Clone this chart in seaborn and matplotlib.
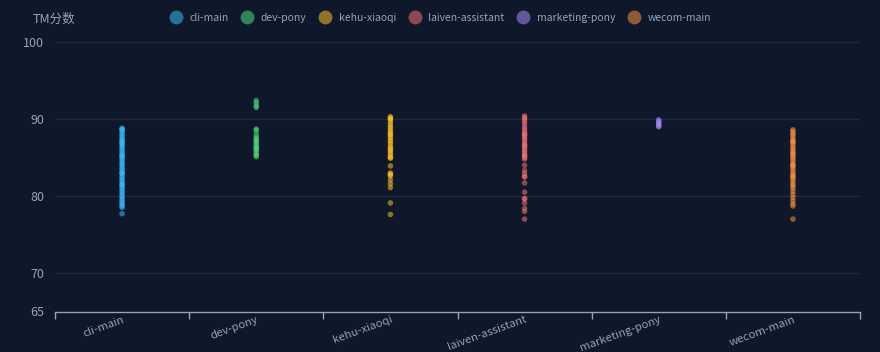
import numpy as np
import pandas as pd
import matplotlib
matplotlib.use("Agg")
import matplotlib.pyplot as plt
from matplotlib.lines import Line2D
import seaborn as sns

# ---------------------------------------------------------------------------
# data
# ---------------------------------------------------------------------------
categories = ["cli-main", "dev-pony", "kehu-xiaoqi", "laiven-assistant",
              "marketing-pony", "wecom-main"]

cli_main = [88.8, 88.6, 88.4, 88.1, 87.9, 87.6, 87.4, 87.2, 87.0, 86.7,
            86.5, 86.3, 86.0, 85.8, 85.5, 85.3, 85.1, 84.8, 84.6, 84.3,
            84.1, 83.9, 83.6, 83.4, 83.1, 82.9, 82.6, 82.4, 82.1, 81.9,
            81.6, 81.4, 81.1, 80.9, 80.6, 80.4, 80.1, 79.9, 79.6, 79.4,
            79.1, 78.9, 78.7, 78.5, 77.7, 88.7, 86.9, 85.2, 83.0, 81.5]
dev_pony = [92.4, 92.1, 91.7, 91.5, 88.7, 88.5, 88.0, 87.6, 87.2, 87.0,
            86.8, 86.5, 86.3, 86.0, 85.8, 85.5, 85.3, 85.1, 86.2, 87.4]
kehu_xiaoqi = [90.3, 90.1, 89.9, 89.6, 89.3, 89.0, 88.8, 88.5, 88.3, 88.0,
               87.7, 87.5, 87.2, 87.0, 86.7, 86.4, 86.2, 85.9, 85.6, 85.4,
               85.1, 84.9, 83.9, 83.0, 82.8, 82.6, 82.1, 81.6, 81.1, 79.1,
               77.6, 90.1, 88.0, 86.0, 85.0, 82.8]
laiven_assistant = [90.4, 90.2, 90.0, 89.7, 89.4, 89.0, 88.7, 88.4, 88.1,
                    87.9, 87.6, 87.4, 87.1, 86.8, 86.6, 86.3, 86.0, 85.8,
                    85.5, 85.3, 85.0, 84.8, 84.0, 83.3, 82.9, 82.5, 82.5,
                    81.7, 80.5, 79.7, 79.6, 79.1, 78.4, 78.0, 77.0, 88.0,
                    86.5, 85.2]
marketing_pony = [89.9, 89.7, 89.5, 89.3, 89.1, 89.0]
wecom_main = [88.6, 88.4, 88.1, 87.9, 87.6, 87.3, 87.1, 86.8, 86.5, 86.2,
              86.0, 85.7, 85.4, 85.1, 84.9, 84.6, 84.3, 84.0, 83.8, 83.5,
              83.2, 82.9, 82.7, 82.4, 82.1, 81.8, 81.5, 81.3, 81.0, 80.6,
              80.2, 79.8, 79.4, 79.0, 78.7, 77.0, 87.0, 85.5, 84.0, 82.5]

series = [cli_main, dev_pony, kehu_xiaoqi, laiven_assistant,
          marketing_pony, wecom_main]
colors = ["#38bdf8", "#4ade80", "#fbbf24", "#f87171", "#a78bfa", "#fb923c"]
y_ticks = [65, 70, 80, 90, 100]

df = pd.DataFrame({
    "app": np.repeat(categories, [len(s) for s in series]),
    "score": np.concatenate(series),
})

# ---------------------------------------------------------------------------
# style
# ---------------------------------------------------------------------------
bg = "#0f172a"
txt = "#94a3b8"
grid = "#1f2a3c"

sns.set_theme(style="dark")
plt.rcParams["font.family"] = ["Noto Sans CJK SC", "DejaVu Sans"]

fig = plt.figure(figsize=(8.8, 3.52), dpi=100, facecolor=bg)
ax = fig.add_axes([55 / 880, 1 - 311.5 / 352, 805 / 880, 269.5 / 352])
ax.set_facecolor(bg)

for v in y_ticks[1:]:
    ax.axhline(v, color=grid, lw=1, zorder=0)

sns.stripplot(data=df, x="app", y="score", hue="app", order=categories,
              hue_order=categories, palette=colors, jitter=False,
              size=4.0, alpha=0.55, linewidth=0, legend=False, ax=ax)

ax.set_xlim(-0.5, len(categories) - 0.5)
ax.set_ylim(65, 100)
ax.set_yticks(y_ticks)
ax.set_yticklabels([str(t) for t in y_ticks], color=txt, fontsize=9)
ax.tick_params(axis="y", left=False, length=0, pad=8)

# ticks at category boundaries, labels at centres
ax.set_xticks(np.arange(len(categories) + 1) - 0.5)
ax.set_xticklabels([])
ax.tick_params(axis="x", which="major", bottom=True, direction="out",
               length=5, color=txt, width=1)
ax.set_xticks(np.arange(len(categories)), minor=True)
ax.set_xticklabels(categories, minor=True, rotation=20, ha="right",
                   rotation_mode="anchor", color=txt, fontsize=8.2)
ax.tick_params(axis="x", which="minor", bottom=True, length=0, pad=2)

ax.set_xlabel("")
ax.set_ylabel("")
for s in ["top", "right", "left"]:
    ax.spines[s].set_visible(False)
ax.spines["bottom"].set_color(txt)
ax.spines["bottom"].set_linewidth(1)
ax.grid(False)

fig.text(33 / 880, 1 - 19 / 352, "TM分数", color=txt, fontsize=9,
         va="center", ha="left")

handles = [Line2D([0], [0], marker="o", linestyle="", markersize=10,
                  markerfacecolor=c, markeredgewidth=0, alpha=0.55)
           for c in colors]
leg = fig.legend(handles, categories, loc="center", ncol=6,
                 bbox_to_anchor=(440 / 880, 1 - 18 / 352), frameon=False,
                 fontsize=7.5, handletextpad=0.7, columnspacing=1.2,
                 handlelength=1.2)
for t in leg.get_texts():
    t.set_color(txt)

fig.savefig("out.png", dpi=100, facecolor=bg)
